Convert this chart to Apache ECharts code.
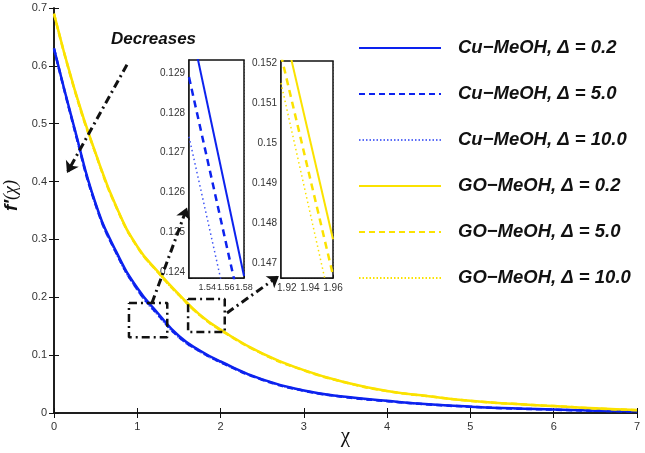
<!DOCTYPE html>
<html>
<head>
<meta charset="utf-8">
<script src="https://cdn.jsdelivr.net/npm/echarts@6/dist/echarts.min.js"></script>
<style>html,body{margin:0;padding:0;background:#fff}#c{width:645px;height:453px}</style>
</head>
<body>
<div id="c"></div>
<script>
// ---- data ----
const xMain = [0, 0.25, 0.5, 0.75, 1, 1.25, 1.5, 1.75, 2, 2.5, 3, 3.5, 4, 4.5, 5, 5.5, 6, 6.5, 7];
const cuD02 = [0.630, 0.490, 0.362, 0.278, 0.216, 0.172, 0.133, 0.108, 0.089, 0.058, 0.039, 0.028, 0.021, 0.015, 0.011, 0.008, 0.006, 0.004, 0.003];
const cuD5  = [0.630, 0.488, 0.360, 0.276, 0.214, 0.170, 0.1315, 0.107, 0.088, 0.0575, 0.0385, 0.0275, 0.0205, 0.0147, 0.0108, 0.0078, 0.0058, 0.0039, 0.0029];
const cuD10 = [0.630, 0.486, 0.358, 0.274, 0.212, 0.168, 0.130, 0.1055, 0.087, 0.057, 0.038, 0.027, 0.020, 0.0144, 0.0106, 0.0076, 0.0057, 0.0038, 0.0028];
const goD02 = [0.690, 0.558, 0.449, 0.356, 0.288, 0.244, 0.205, 0.170, 0.144, 0.103, 0.074, 0.053, 0.038, 0.029, 0.021, 0.016, 0.012, 0.008, 0.005];
const goD5  = [0.690, 0.557, 0.448, 0.355, 0.287, 0.243, 0.204, 0.1693, 0.1434, 0.1026, 0.0737, 0.0528, 0.0378, 0.0289, 0.0209, 0.0159, 0.0119, 0.0079, 0.0049];
const goD10 = [0.690, 0.556, 0.447, 0.354, 0.286, 0.242, 0.203, 0.1686, 0.1428, 0.1022, 0.0734, 0.0526, 0.0376, 0.0288, 0.0208, 0.0158, 0.0118, 0.0078, 0.0048];

// zoomed insets
const inset1X = [1.52, 1.58];
const inCuD02 = [0.1304, 0.1239];
const inCuD5  = [0.1289, 0.1227];
const inCuD10 = [0.1274, 0.1212];
const inset2X = [1.915, 1.96];
const inGoD02 = [0.1532, 0.1476];
const inGoD5  = [0.1522, 0.1467];
const inGoD10 = [0.1515, 0.1457];

const names = ['Cu\u2212MeOH, \u0394 = 0.2', 'Cu\u2212MeOH, \u0394 = 5.0', 'Cu\u2212MeOH, \u0394 = 10.0',
               'GO\u2212MeOH, \u0394 = 0.2', 'GO\u2212MeOH, \u0394 = 5.0', 'GO\u2212MeOH, \u0394 = 10.0'];

// annotation boxes and arrows (data coordinates of the main plot)
const box1 = [[0.90, 0.19], [1.36, 0.19], [1.36, 0.131], [0.90, 0.131], [0.90, 0.19]];
const box2 = [[1.61, 0.197], [2.05, 0.197], [2.05, 0.14], [1.61, 0.14], [1.61, 0.197]];
const arrows = [
  [[0.876, 0.602], [0.156, 0.415]],
  [[1.176, 0.19], [1.597, 0.355]],
  [[2.077, 0.173], [2.70, 0.237]]
];

const BLUE = '#0c22ee', YELLOW = '#fbe200';
const zip = (xs, ys) => xs.map((x, i) => [x, ys[i]]);
const dashDot = [8, 4, 2, 4];

function mainLine(name, ys, color, type, width) {
  return { name, type: 'line', xAxisIndex: 0, yAxisIndex: 0, data: zip(xMain, ys), smooth: true,
    symbol: 'none', lineStyle: { color, type, width }, itemStyle: { color }, z: 3 };
}
function insetLine(name, xs, ys, idx, color, type, width) {
  return { name, type: 'line', xAxisIndex: idx, yAxisIndex: idx, data: zip(xs, ys),
    symbol: 'none', lineStyle: { color, type, width }, itemStyle: { color }, z: 6, clip: true };
}
const fmt = (step) => (v) => {
  const k = Math.round(v / step);
  if (Math.abs(v / step - k) > 1e-6) return '';
  return String(+(k * step).toFixed(3));
};

const axisBlack = { lineStyle: { color: '#111', width: 1.5 } };
const mainLabel = { fontSize: 11, color: '#333', fontFamily: 'Liberation Sans' };
const insetLabel = { fontSize: 10, color: '#333', fontFamily: 'Liberation Sans', hideOverlap: false };
const dotSplit = { show: true, lineStyle: { color: '#aaa', type: [1, 2], width: 1 } };

const chart = echarts.init(document.getElementById('c'));
chart.setOption({
  animation: false,
  backgroundColor: '#fff',
  grid: [
    { left: 54, right: 8, top: 8, bottom: 40, outerBoundsMode: 'none', containLabel: false },
    { left: 189, right: 401, top: 60, bottom: 175, show: true, backgroundColor: '#fff', borderColor: '#111', borderWidth: 1.5, z: 4, outerBoundsMode: 'none', containLabel: false },
    { left: 281, right: 312, top: 61, bottom: 175, show: true, backgroundColor: '#fff', borderColor: '#111', borderWidth: 1.5, z: 4, outerBoundsMode: 'none', containLabel: false }
  ],
  xAxis: [
    { gridIndex: 0, type: 'value', min: 0, max: 7, interval: 1, position: 'bottom',
      axisLine: axisBlack, axisTick: { inside: true, length: 5, lineStyle: { color: '#111' } },
      axisLabel: Object.assign({ margin: 8 }, mainLabel), splitLine: { show: false },
      name: '\u03c7', nameLocation: 'middle', nameGap: 13, nameMoveOverlap: false,
      nameTextStyle: { fontSize: 21, lineHeight: 21, color: '#111', fontFamily: 'Liberation Serif', verticalAlign: 'top' } },
    { gridIndex: 0, type: 'value', min: 0, max: 7, interval: 1, position: 'top',
      axisLine: axisBlack, axisTick: { inside: true, length: 5, lineStyle: { color: '#111' } },
      axisLabel: { show: false }, splitLine: { show: false } },
    { gridIndex: 1, type: 'value', min: 1.52, max: 1.58, splitNumber: 3,
      axisLine: axisBlack, axisTick: { inside: true, length: 3 },
      axisLabel: Object.assign({}, insetLabel, { fontSize: 9, margin: 5, showMinLabel: false, showMaxLabel: true, formatter: fmt(0.02) }),
      splitLine: dotSplit },
    { gridIndex: 2, type: 'value', min: 1.915, max: 1.96, splitNumber: 2,
      axisLine: axisBlack, axisTick: { inside: true, length: 3 },
      axisLabel: Object.assign({ margin: 5, showMaxLabel: true, formatter: fmt(0.02) }, insetLabel),
      splitLine: dotSplit }
  ],
  yAxis: [
    { gridIndex: 0, type: 'value', min: 0, max: 0.7, interval: 0.1, position: 'left',
      axisLine: axisBlack, axisTick: { inside: true, length: 5, lineStyle: { color: '#111' } },
      axisLabel: Object.assign({ margin: 7 }, mainLabel), splitLine: { show: false },
      name: '{f|f\u2032}{c|(\u03c7)}', nameLocation: 'middle', nameGap: 30,
      nameTextStyle: { padding: [0, 0, 0, 30], rich: {
        f: { fontSize: 19, fontWeight: 'bold', fontStyle: 'italic', fontFamily: 'Liberation Sans', color: '#111' },
        c: { fontSize: 18, fontStyle: 'italic', fontFamily: 'Liberation Serif', color: '#111' } } } },
    { gridIndex: 0, type: 'value', min: 0, max: 0.7, interval: 0.1, position: 'right',
      axisLine: axisBlack, axisTick: { inside: true, length: 5, lineStyle: { color: '#111' } },
      axisLabel: { show: false }, splitLine: { show: false } },
    { gridIndex: 1, type: 'value', min: 0.12385, max: 0.12933, splitNumber: 5,
      axisLine: axisBlack, axisTick: { inside: true, length: 3 },
      axisLabel: Object.assign({ margin: 4, showMaxLabel: false, formatter: fmt(0.001) }, insetLabel),
      splitLine: dotSplit },
    { gridIndex: 2, type: 'value', min: 0.14663, max: 0.15205, splitNumber: 5,
      axisLine: axisBlack, axisTick: { inside: true, length: 3 },
      axisLabel: Object.assign({ margin: 4, formatter: fmt(0.001) }, insetLabel),
      splitLine: dotSplit }
  ],
  legend: {
    data: names, orient: 'vertical', left: 353, top: 33,
    itemWidth: 82, itemHeight: 14, itemGap: 26,
    itemStyle: { opacity: 0 },
    textStyle: { fontSize: 18.5, fontWeight: 'bold', fontStyle: 'italic', fontFamily: 'Liberation Sans',
      color: '#111', padding: [0, 0, 0, 12], lineHeight: 20 }
  },
  graphic: [
    { type: 'text', left: 111, top: 31, z: 10,
      style: { text: 'Decreases', font: 'italic bold 17px "Liberation Sans"', fill: '#111' } }
  ],
  series: [
    mainLine(names[2], cuD10, '#5a6cf7', [1.5, 2], 1.5),
    mainLine(names[1], cuD5, BLUE, [6, 4], 2.5),
    mainLine(names[0], cuD02, BLUE, 'solid', 2.5),
    mainLine(names[5], goD10, YELLOW, [1.5, 2], 1.5),
    mainLine(names[4], goD5, YELLOW, [6, 4], 2.5),
    mainLine(names[3], goD02, YELLOW, 'solid', 2.5),
    insetLine(names[0], inset1X, inCuD02, 2, BLUE, 'solid', 2),
    insetLine(names[1], inset1X, inCuD5, 2, BLUE, [7, 5], 2.5),
    insetLine(names[2], inset1X, inCuD10, 2, '#3f55f5', [1.5, 3], 1.5),
    insetLine(names[3], inset2X, inGoD02, 3, YELLOW, 'solid', 2),
    insetLine(names[4], inset2X, inGoD5, 3, YELLOW, [7, 5], 2.5),
    insetLine(names[5], inset2X, inGoD10, 3, YELLOW, [1.5, 3], 1.5),
    { name: 'box1', type: 'line', xAxisIndex: 0, yAxisIndex: 0, data: box1, symbol: 'none', z: 7,
      lineStyle: { color: '#111', type: dashDot, width: 2.5 },
      markLine: { silent: true, symbol: ['none', 'arrow'], symbolSize: 11, label: { show: false },
        lineStyle: { color: '#111', type: dashDot, width: 3 },
        data: arrows.map(a => [{ coord: a[0] }, { coord: a[1] }]) } },
    { name: 'box2', type: 'line', xAxisIndex: 0, yAxisIndex: 0, data: box2, symbol: 'none', z: 7,
      lineStyle: { color: '#111', type: dashDot, width: 2.5 } }
  ]
});
</script>
</body>
</html>
